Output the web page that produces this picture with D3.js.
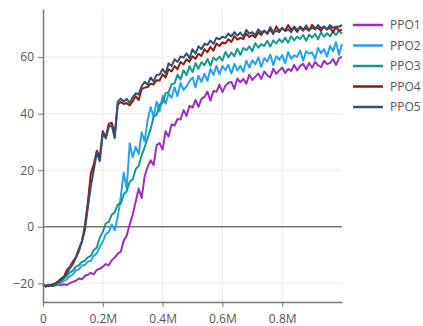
<!DOCTYPE html>
<html>
<head>
<meta charset="utf-8">
<script src="https://cdn.jsdelivr.net/npm/d3@7"></script>
<style>
  body { margin: 0; background: #fff; }
  svg { font-family: "Open Sans", "Noto Sans", sans-serif; }
</style>
</head>
<body>
<div id="chart"></div>
<script>
// Training steps: 0 .. 1.0M, one sample every 10k steps
const steps = d3.range(101).map(i => i * 10000);

const names = ['PPO1', 'PPO2', 'PPO3', 'PPO4', 'PPO5'];
const colors = ['#9c2fc0', '#28a0f5', '#17998a', '#8e1b12', '#34506e'];

const ppo1 = [
  -20.5, -21.1, -20.6, -20.9, -20.8, -20.4, -20.7, -20.3, -20.6, -19.9,
  -19.5, -19.1, -18.3, -18.6, -17.4, -16.9, -16.3, -16.8, -15.2, -14.9,
  -14.1, -13.2, -13.6, -11.8, -10.9, -9.5, -8.8, -4.9, -3.1, 0.8,
  4.2, 8.9, 13.5, 10.2, 17.8, 21.2, 23.5, 21.8, 28.9, 29.6,
  27.3, 33.8, 31.9, 36.2, 35.8, 38.1, 37.9, 41.3, 39.2, 42.8,
  42.1, 44.9, 42.4, 45.2, 45.9, 47.8, 44.6, 48.1, 47.7, 50.3,
  47.6, 49.8, 50.9, 51.2, 48.8, 52.4, 51.1, 52.3, 50.6, 53.8,
  51.9, 53.1, 54.2, 52.3, 54.9, 53.6, 52.8, 55.9, 54.1, 55.2,
  56.3, 54.4, 55.8, 55.1, 57.2, 55.3, 56.9, 57.6, 55.7, 57.9,
  56.2, 58.3, 57.1, 56.4, 58.7, 57.5, 57.9, 59.3, 57.2, 59.6, 60.1];

const ppo2 = [
  -20.5, -20.9, -20.5, -20.8, -20.7, -20.2, -19.9, -19.1, -18.6, -17.5,
  -16.8, -15.4, -15.1, -13.7, -13.5, -12.3, -12.1, -10.2, -9.4, -7.1,
  -5.3, -2.6, -1.9, 0.8, -1.2, 3.5, 10.4, 19.2, 13.6, 29.5,
  24.6, 28.3, 25.7, 33.4, 30.2, 37.8, 42.3, 38.9, 44.2, 40.8,
  46.3, 43.5, 47.1, 45.6, 49.3, 46.2, 50.8, 48.4, 49.6, 51.5,
  52.8, 49.3, 53.4, 51.2, 54.1, 51.6, 55.8, 53.7, 56.9, 53.9,
  56.8, 55.4, 57.3, 54.2, 57.6, 55.3, 56.9, 54.8, 58.7, 56.3,
  58.9, 57.4, 59.8, 56.5, 59.6, 58.4, 60.9, 57.2, 60.3, 59.1,
  60.7, 57.8, 61.8, 59.4, 60.6, 60.1, 62.3, 58.7, 62.1, 61.2,
  61.6, 59.3, 63.2, 61.4, 62.8, 60.2, 63.9, 62.1, 65.3, 60.8, 64.6];

const ppo3 = [
  -20.5, -21, -20.7, -20.8, -20.6, -19.9, -19.3, -18.2, -17.4, -16.1,
  -15.5, -14.1, -13.6, -12.4, -12, -10.8, -10.3, -8.2, -7.3, -3.8,
  -1.8, 1.2, 1.7, 4.3, 5.1, 7.9, 8.2, 11.4, 12.6, 15.9,
  16.7, 20.4, 21.6, 25.3, 28.1, 31.4, 34.6, 38.9, 39.6, 43.3,
  43.8, 47.2, 47.6, 50.4, 50.7, 53.8, 52.1, 55.3, 53.6, 56.8,
  54.7, 57.9, 55.8, 58.2, 57.1, 59.3, 56.9, 59.8, 58.9, 60.2,
  58.7, 61.8, 59.9, 61.6, 60.3, 62.9, 60.8, 63.2, 62.4, 63.8,
  62.1, 64.9, 63.3, 64.6, 63.9, 65.8, 63.7, 65.9, 64.8, 66.3,
  65.2, 66.8, 65.1, 67.3, 65.9, 67.2, 66.4, 67.8, 65.8, 67.9,
  66.9, 68.2, 66.3, 68.8, 67.2, 68.4, 67.4, 68.9, 67.8, 69.4, 68.2];

const ppo4 = [
  -20.5, -20.8, -21, -20.4, -20.1, -19.3, -18.4, -17.6, -15.3, -14.2,
  -12.3, -10.8, -7.8, -5.2, 0.3, 8.6, 18.8, 22.1, 26.9, 24.6,
  33.8, 31.7, 36.4, 36.8, 32.9, 43.2, 44.1, 43.4, 43.8, 42.9,
  44.3, 46.2, 44.8, 48.7, 49.2, 49.4, 50.6, 50.3, 51.8, 51.7,
  53.9, 52.8, 55.7, 54.9, 56.8, 55.7, 58.3, 57.4, 59.2, 58.4,
  60.3, 59.4, 61.2, 60.4, 62.8, 61.7, 63.6, 62.3, 64.8, 63.9,
  65.2, 64.8, 66.3, 65.3, 67.4, 66.2, 66.8, 66.4, 68.3, 67.1,
  67.8, 66.9, 68.8, 67.8, 69.4, 68.3, 69.8, 68.2, 70.8, 69.3,
  70.2, 69.4, 71.3, 69.7, 70.3, 68.9, 70.8, 69.8, 70.2, 69.3,
  71.4, 70.2, 70.3, 69.3, 70.8, 69.8, 70.4, 68.8, 70.6, 69.3, 69.7];

const ppo5 = [
  -20.5, -21.2, -20.5, -21, -20.4, -19.6, -18.7, -17.9, -16.4, -14.6,
  -13.2, -11, -8.7, -5.3, -1.2, 6.8, 14.3, 20.2, 26.3, 23.2,
  33.2, 31.2, 35.3, 35.8, 31.3, 44.2, 45.3, 44.3, 45.2, 43.8,
  45.8, 47.2, 46.8, 49.7, 51.3, 50.2, 52.8, 51.3, 53.7, 53.8,
  55.8, 54.3, 57.8, 56.8, 59.2, 58.3, 60.2, 59.8, 61.3, 59.7,
  62.8, 61.2, 63.8, 62.8, 64.7, 64.3, 65.8, 64.7, 66.8, 66.3,
  67.2, 66.8, 68.3, 67.3, 68.8, 67.6, 68.7, 67.2, 69.6, 68.3,
  68.8, 67.8, 69.8, 68.7, 69.3, 68.2, 70.6, 68.7, 69.3, 68.8,
  70.3, 69.2, 69.8, 68.8, 70.8, 69.7, 70.3, 69.3, 71.2, 69.6,
  70.3, 69.8, 71.3, 70.2, 70.8, 69.7, 71.3, 70.3, 70.8, 70.7, 71.4];

const seriesValues = [ppo1, ppo2, ppo3, ppo4, ppo5];

const xTicks = [0, 200000, 400000, 600000, 800000];
const xTickLabels = ['0', '0.2M', '0.4M', '0.6M', '0.8M'];
const yTicks = [-20, 0, 20, 40, 60];

const W = 423, H = 326;
const margin = {top: 9, right: 81, bottom: 24, left: 43};
const width = W - margin.left - margin.right,
    height = H - margin.top - margin.bottom;

const svg = d3.select('#chart').append('svg')
    .attr('width', W)
    .attr('height', H);

const g = svg.append('g')
    .attr('transform', 'translate(' + margin.left + ',' + margin.top + ')');

const x = d3.scaleLinear().domain([0, 1000000]).range([0, width]);
const y = d3.scaleLinear().domain([-26.6, 77]).range([height, 0]);

// grid
g.append('g').selectAll('line')
    .data(xTicks.filter(d => d > 0))
    .join('line')
    .attr('x1', d => x(d)).attr('x2', d => x(d))
    .attr('y1', 0).attr('y2', height)
    .attr('stroke', '#ebebeb').attr('stroke-width', 1);

g.append('g').selectAll('line')
    .data(yTicks.filter(d => d !== 0))
    .join('line')
    .attr('x1', 0).attr('x2', width)
    .attr('y1', d => y(d)).attr('y2', d => y(d))
    .attr('stroke', '#ebebeb').attr('stroke-width', 1);

// zero line
g.append('line')
    .attr('x1', 0).attr('x2', width)
    .attr('y1', y(0)).attr('y2', y(0))
    .attr('stroke', '#777').attr('stroke-width', 1.5);

// lines
const line = d3.line()
    .x((d, i) => x(steps[i]))
    .y(d => y(d));

g.append('g').selectAll('path')
    .data(seriesValues)
    .join('path')
    .attr('d', d => line(d))
    .attr('fill', 'none')
    .attr('stroke', (d, i) => colors[i])
    .attr('stroke-width', 2)
    .attr('stroke-linejoin', 'round');

// axes
const xAxis = g.append('g')
    .attr('transform', 'translate(0,' + height + ')')
    .call(d3.axisBottom(x).tickValues(xTicks)
        .tickFormat((d, i) => xTickLabels[i]).tickSize(5).tickSizeOuter(0));

const yAxis = g.append('g')
    .call(d3.axisLeft(y).tickValues(yTicks).tickSize(5).tickSizeOuter(0));

[xAxis, yAxis].forEach(a => {
    a.select('.domain').attr('stroke', '#777').attr('stroke-width', 1.5);
    a.selectAll('.tick line').attr('stroke', '#777');
    a.selectAll('.tick text')
        .attr('fill', '#555')
        .style('font-size', '12px')
        .style('font-family', '"Open Sans", sans-serif');
});
xAxis.selectAll('.tick text').attr('dy', '1.05em');
yAxis.selectAll('.tick text').attr('x', -9);

// legend
const legend = svg.append('g')
    .attr('transform', 'translate(353,25)');

const item = legend.selectAll('g')
    .data(names)
    .join('g')
    .attr('transform', (d, i) => 'translate(0,' + (i * 20.5) + ')');

item.append('line')
    .attr('x1', 0).attr('x2', 30)
    .attr('stroke', (d, i) => colors[i])
    .attr('stroke-width', 2.5);

item.append('text')
    .attr('x', 37)
    .attr('dy', '0.35em')
    .attr('fill', '#555')
    .style('font-size', '12px')
    .text(d => d);
</script>
</body>
</html>
